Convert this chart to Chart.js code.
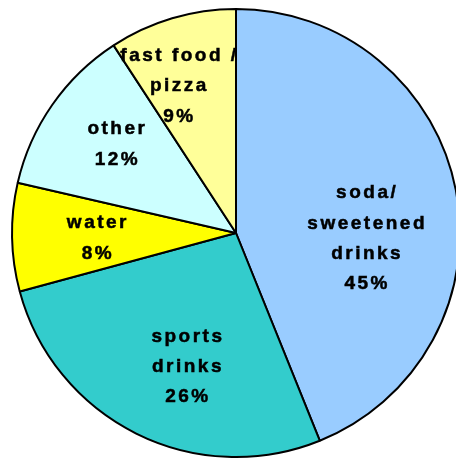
<!DOCTYPE html>
<html>
<head>
<meta charset="utf-8">
<script src="https://cdn.jsdelivr.net/npm/chart.js@4/dist/chart.umd.min.js"></script>
<style>
  html, body { margin: 0; padding: 0; background: #fff; overflow: hidden; }
  #wrap { position: absolute; left: 0; top: 0; width: 456px; height: 459px; overflow: hidden; }
  #chart { position: absolute; left: 0; top: 0; }
</style>
</head>
<body>
<div id="wrap"><canvas id="chart" width="472" height="466"></canvas></div>
<script>
// dados do gráfico (fatias, rótulos como impressos)
var categories = ['soda/\nsweetened\ndrinks', 'sports\ndrinks', 'water', 'other', 'fast food /\npizza'];
var values = [43.9, 26.9, 7.8, 12.2, 9.2];
var percentLabels = ['45%', '26%', '8%', '12%', '9%'];
var colors = ['#99CCFF', '#33CCCC', '#FFFF00', '#CCFFFF', '#FFFF99'];

// posição dos rótulos (fração do raio, a partir do centro)
var labelPos = [[0.58, 0.025], [-0.22, 0.598], [-0.622, 0.024], [-0.535, -0.396], [-0.258, -0.656]];

var labelPlugin = {
  id: 'sliceLabels',
  afterDatasetsDraw: function(chart) {
    var ctx = chart.ctx;
    var meta = chart.getDatasetMeta(0);
    ctx.save();
    ctx.fillStyle = '#000';
    ctx.strokeStyle = '#000';
    ctx.lineWidth = 0.5;
    ctx.font = 'bold 19px "Liberation Sans", Arial, sans-serif';
    ctx.letterSpacing = '2.5px';
    ctx.textAlign = 'center';
    ctx.textBaseline = 'middle';
    meta.data.forEach(function(arc, i) {
      var r = arc.outerRadius;
      var cx = arc.x + labelPos[i][0] * r;
      var cy = arc.y + labelPos[i][1] * r;
      var lines = categories[i].split('\n').concat([percentLabels[i]]);
      var lh = 30.3;
      var y0 = cy - (lines.length - 1) * lh / 2;
      lines.forEach(function(t, j) {
        ctx.fillText(t, cx + 1.25, y0 + j * lh);
        ctx.strokeText(t, cx + 1.25, y0 + j * lh);
      });
    });
    ctx.restore();
  }
};

var ctx = document.getElementById('chart').getContext('2d');
var chart = new Chart(ctx, {
  type: 'pie',
  data: {
    labels: categories,
    datasets: [{
      data: values,
      backgroundColor: colors,
      borderColor: '#000',
      borderWidth: 2
    }]
  },
  options: {
    responsive: false,
    animation: false,
    layout: { padding: { left: 11, top: 8, right: 11, bottom: 8 } },
    plugins: {
      legend: { display: false },
      tooltip: { enabled: false }
    }
  },
  plugins: [labelPlugin]
});
</script>
</body>
</html>
